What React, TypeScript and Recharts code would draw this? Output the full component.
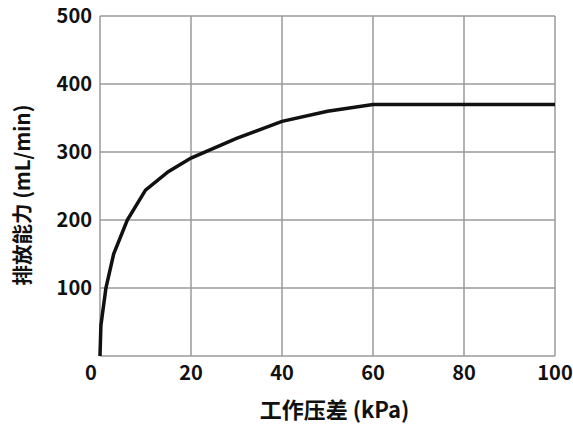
import React from 'react';
import { LineChart, Line, XAxis, YAxis, CartesianGrid, Label } from 'recharts';

// 工作压差 (kPa)
const pressure = [0, 0.2, 1.3, 3, 6, 10, 15, 20, 30, 40, 50, 60, 100];
// 排放能力 (mL/min)
const flow = [0, 45, 100, 150, 200, 244, 271, 291, 320, 345, 360, 370, 370];

const xTicks = [0, 20, 40, 60, 80, 100];
const yTicks = [0, 100, 200, 300, 400, 500];

const data = pressure.map((p, i) => ({ p, flow: flow[i] }));

const FONT = '"Noto Sans CJK SC", "Noto Sans", sans-serif';

const XTick = (props: any) => {
  const { x, y, payload } = props;
  const dx = payload.value === 0 ? -9 : 0;
  return (
    <text x={x + dx} y={y + 16} textAnchor="middle" fontSize={20} fontWeight={700} fill="#111" fontFamily={FONT}>
      {payload.value}
    </text>
  );
};

const YTick = (props: any) => {
  const { x, y, payload } = props;
  if (payload.value === 0) return null;
  return (
    <text x={x} y={y + 7} textAnchor="end" fontSize={20} fontWeight={700} fill="#111" fontFamily={FONT}>
      {payload.value}
    </text>
  );
};

export default function App() {
  return (
    <div style={{ position: 'absolute', left: 0, top: 0, width: 573, height: 426, background: '#fff' }}>
      <LineChart width={573} height={426} data={data} margin={{ top: 16, right: 18, bottom: 4, left: 10 }}>
        <CartesianGrid stroke="#9a9a9a" strokeWidth={1.5} />
        <XAxis
          dataKey="p"
          type="number"
          domain={[0, 100]}
          ticks={xTicks}
          axisLine={false}
          tickLine={false}
          tick={<XTick />}
          height={66}
          interval={0}
        >
          <Label
            value="工作压差 (kPa)"
            position="insideBottom"
            offset={4}
            dx={7}
            style={{ fontSize: 22, fontWeight: 700, fill: '#111', fontFamily: FONT }}
          />
        </XAxis>
        <YAxis
          type="number"
          domain={[0, 500]}
          ticks={yTicks}
          axisLine={false}
          tickLine={false}
          tick={<YTick />}
          width={90}
          interval={0}
        >
          <Label
            value="排放能力 (mL/min)"
            angle={-90}
            position="insideLeft"
            offset={13}
            dy={9}
            style={{ fontSize: 20.5, fontWeight: 700, fill: '#111', fontFamily: FONT, textAnchor: 'middle' }}
          />
        </YAxis>
        <Line
          type="linear"
          dataKey="flow"
          stroke="#111"
          strokeWidth={3.5}
          dot={false}
          isAnimationActive={false}
        />
      </LineChart>
    </div>
  );
}
